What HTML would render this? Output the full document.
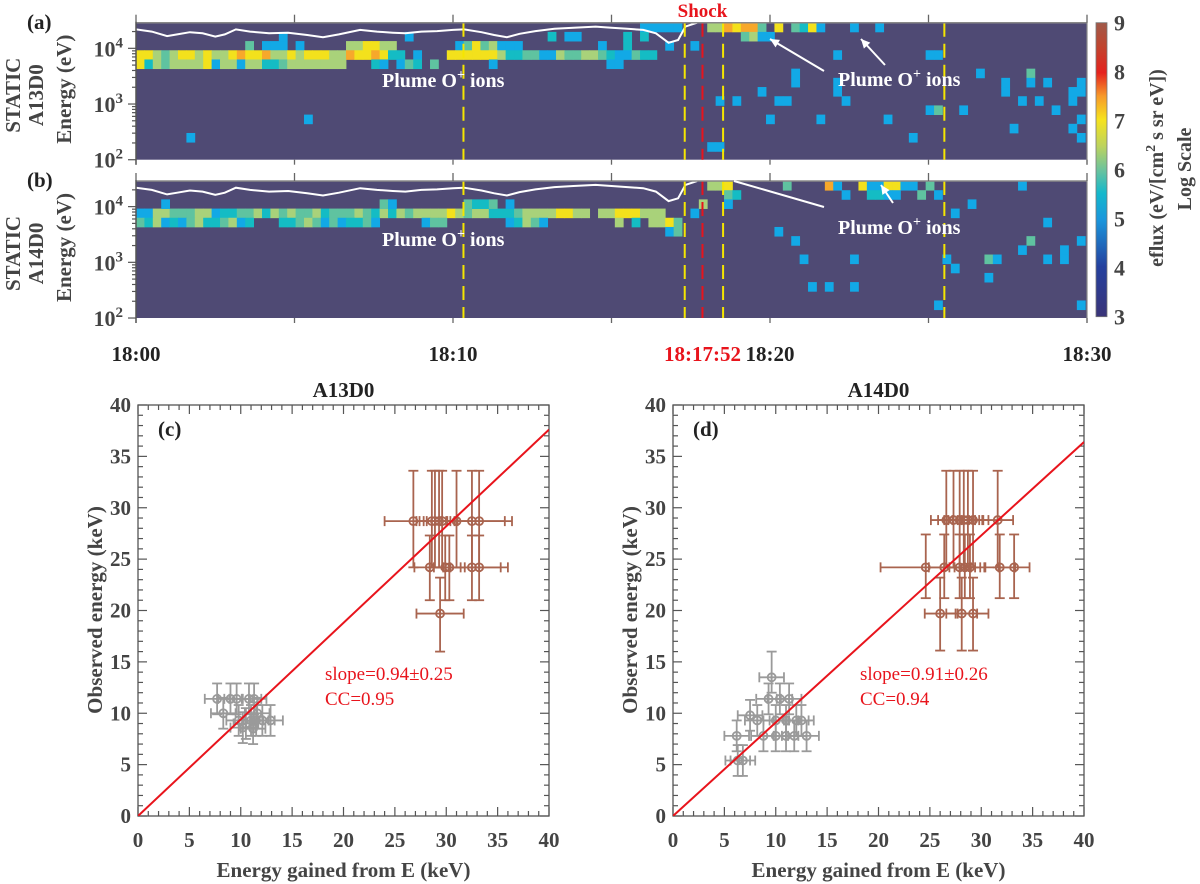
<!DOCTYPE html>
<html><head><meta charset="utf-8"><style>
html,body{margin:0;padding:0;background:#fff;}
svg{display:block;font-family:"Liberation Serif",serif;}
</style></head><body>
<svg id="fig" width="1200" height="884" viewBox="0 0 1200 884" xmlns="http://www.w3.org/2000/svg">
<defs>
<linearGradient id="cbar" x1="0" y1="1" x2="0" y2="0">
<stop offset="0" stop-color="#3a3478"/><stop offset="0.17" stop-color="#24409e"/>
<stop offset="0.33" stop-color="#1a96dc"/><stop offset="0.42" stop-color="#14b8cc"/>
<stop offset="0.5" stop-color="#6cc39c"/><stop offset="0.58" stop-color="#bcd35e"/>
<stop offset="0.67" stop-color="#f6e31e"/><stop offset="0.75" stop-color="#f79a2a"/>
<stop offset="0.83" stop-color="#e5221e"/><stop offset="0.92" stop-color="#c0452f"/>
<stop offset="1" stop-color="#a05a4a"/>
</linearGradient>
<clipPath id="clipA"><rect x="136" y="22.7" width="951" height="136.5"/></clipPath>
<clipPath id="clipB"><rect x="136" y="181" width="951" height="136.5"/></clipPath>
<clipPath id="clipC"><rect x="138" y="405" width="411" height="411"/></clipPath>
<clipPath id="clipD"><rect x="673" y="405" width="411" height="411"/></clipPath>
</defs>
</svg>
<script>
// ---------- spectrogram data ----------
const binMin = 0.265;
const rowsA_k = [0, 2, 3, 4];
const rowsA_start = [60, 13, 0, 0];
const rowsA_str = [
 "bbbbb...lloyoog.y.gcyb...b..b",
 "g.bbb.b.....llyyll.......bgyglbbb.........b..c....b..b",
 "yylglyylyllyoyyollylyyylloyyoycc.b...yyyyyylccggbblggllgcbbgcc",
 "yclgllllybllbllccglllllll...cb.bgc.g......b.............bb"
];
const rowsB_k = [3, 4];
const rowsB_start = [0, 0];
const rowsB_str = [
 "bbllgggllbccgglclglgglcggglgclclgllllylgllcccgllllyyll.llyyylll...b",
 "gclbcbglccglbc...ccglgbgbccgb.....bgg.......bclgb........l.c.llyg"
];
const dotsA = [[17,1,'b'],[32,1,'b'],[49,1,'c'],[51,1,'b'],[52,1,'b'],[58,1,'c'],[60,1,'c'],[72,1,'g'],[73,1,'l'],[74,1,'b'],[75,1,'b'],
[83,3,'b'],[94,3,'b'],[95,3,'b'],[78,5,'b'],[78,6,'b'],[74,7,'b'],[83,6,'b'],[83,7,'b'],
[69,8,'b'],[71,8,'b'],[76,8,'b'],[77,8,'b'],[84,8,'b'],[94,9,'b'],[95,9,'g'],[98,9,'b'],
[75,10,'b'],[81,10,'b'],[89,10,'b'],[92,12,'b'],[68,13,'b'],[69,13,'b'],
[100,5,'b'],[103,6,'b'],[103,7,'b'],[105,8,'b'],[106,5,'g'],[106,6,'b'],[107,8,'b'],[108,6,'b'],[109,9,'b'],
[111,7,'b'],[112,7,'b'],[111,8,'b'],[112,6,'b'],[104,11,'b'],[111,11,'b'],[112,12,'b'],[112,10,'b'],[20,10,'b'],[6,12,'b']];
const dotsB = [[68,0,'l'],[69,0,'l'],[70,0,'y'],[77,0,'g'],[82,0,'o'],[83,0,'b'],[86,0,'y'],[87,0,'b'],[88,0,'b'],[89,0,'y'],[90,0,'y'],[91,0,'b'],[92,0,'b'],[94,0,'g'],[105,0,'b'],
[70,1,'g'],[71,1,'c'],[84,1,'b'],[87,1,'c'],[88,1,'c'],[89,1,'b'],[90,1,'b'],[93,1,'g'],[95,1,'b'],
[3,2,'b'],[29,2,'g'],[30,2,'b'],[39,2,'g'],[40,2,'c'],[41,2,'c'],[42,2,'g'],[44,2,'b'],[67,2,'l'],[70,2,'b'],[99,2,'b'],
[97,3,'b'],[108,4,'b'],[63,5,'b'],[64,5,'g'],[76,5,'b'],[78,6,'b'],[112,6,'b'],[106,6,'g'],[105,7,'b'],[110,7,'b'],[110,8,'b'],
[79,8,'b'],[85,8,'b'],[96,8,'b'],[101,8,'g'],[102,8,'b'],[108,8,'b'],[97,9,'b'],[101,10,'b'],[80,11,'b'],[82,11,'b'],[85,11,'b'],[95,13,'b'],[112,13,'b']];
const lineMin = [0,0.5,0.98,1.3,1.7,2.1,2.5,2.8,3.15,3.6,4.2,4.8,5.4,5.9,6.4,7.07,7.6,8.1,8.5,9.0,9.5,10.0,10.35,10.9,11.3,11.7,12.1,12.6,13.2,13.8,14.5,15.0,15.5,16.0,16.4,16.8,17.1,17.33,17.7];
const lineLogE = [4.34,4.30,4.22,4.25,4.29,4.27,4.21,4.25,4.34,4.30,4.27,4.28,4.24,4.20,4.25,4.33,4.30,4.28,4.27,4.30,4.31,4.33,4.34,4.29,4.24,4.20,4.26,4.31,4.35,4.37,4.39,4.37,4.35,4.33,4.27,4.10,4.15,4.39,4.46];
const yellowLines = [10.33, 17.31, 18.52, 25.5];
const shockLine = 17.87;
const timeTicks = [0,10,20,30];
const timeLabels = ["18:00","18:10","18:20","18:30"];
const cbarTicks = [3,4,5,6,7,8,9];

// ---------- scatter data ----------
const cX = [26.8,28.6,28.9,29.3,29.6,31.0,32.5,33.2, 28.4,29.9,30.3,32.5,33.2, 29.4];
const cY = [28.7,28.7,28.7,28.7,28.7,28.7,28.7,28.7, 24.2,24.2,24.2,24.2,24.2, 19.7];
const cXe = [2.8,1.5,1.5,1.5,1.5,1.5,3.2,3.2, 1.5,1.5,1.5,2.8,2.8, 2.3];
const cYlo = [4.5,4.5,4.5,4.5,4.5,4.5,4.5,4.5, 3.2,3.2,3.2,3.2,3.2, 3.7];
const cYhi = [4.9,4.9,4.9,4.9,4.9,4.9,4.9,4.9, 3.1,3.1,3.1,3.1,3.1, 3.5];
const cGX = [7.7,9.0,9.6,10.8,11.3,8.3,9.8,10.5,11.0,11.5,12.1,12.9,10.2,11.2,11.6];
const cGY = [11.4,11.4,11.4,11.4,11.4,10.0,9.3,9.0,9.3,9.3,9.3,9.3,8.6,8.5,10.0];
const dX = [26.6,27.3,27.9,28.3,28.7,29.2,31.6, 24.6,26.4,27.9,28.4,28.9,31.8,33.2, 26.0,28.1,29.2];
const dY = [28.8,28.8,28.8,28.8,28.8,28.8,28.8, 24.2,24.2,24.2,24.2,24.2,24.2,24.2, 19.7,19.7,19.7];
const dXe = [1.5,1.5,1.5,1.5,1.5,1.5,1.5, 4.4,1.5,1.5,1.5,1.5,1.5,1.5, 1.5,1.5,1.5];
const dYlo = [4.6,4.6,4.6,4.6,4.6,4.6,4.6, 3.0,3.0,3.0,3.0,3.0,3.0,3.0, 3.6,3.6,3.6];
const dYhi = [4.8,4.8,4.8,4.8,4.8,4.8,4.8, 3.2,3.2,3.2,3.2,3.2,3.2,3.2, 3.5,3.5,3.5];
const dGX = [9.6,9.3,10.4,11.3,7.5,8.2,10.0,11.0,12.0,12.5,6.2,8.8,10.0,11.0,11.8,13.0,6.3,6.8];
const dGY = [13.5,11.4,11.4,11.4,9.8,9.3,9.3,9.3,9.3,9.3,7.8,7.8,7.8,7.8,7.8,7.8,5.4,5.4];
const slopes = [0.94, 0.91];
const fitText = ["slope=0.94\u00b10.25","slope=0.91\u00b10.26"];
const ccText = ["CC=0.95","CC=0.94"];

// ---------- helpers ----------
const NS="http://www.w3.org/2000/svg";
const svg=document.getElementById('fig');
function mk(tag,attrs,parent){const e=document.createElementNS(NS,tag);for(const k in attrs)e.setAttribute(k,attrs[k]);(parent||svg).appendChild(e);return e;}
const COL={b:'#12a9e6',c:'#14bcc4',g:'#5fc3a0',l:'#a9d27a',y:'#f3e11c',o:'#f7a82b'};
const T0=136,T1=1087;
function xT(m){return T0+(T1-T0)*m/30;}
const panels=[{name:'a',top:22.7,bot:159.7,clip:'clipA'},{name:'b',top:181,bot:318,clip:'clipB'}];
function yE(p,logE){return p.top+(4.46-logE)*55.7;}
function cell(p,g,bin,k,code){
 const x0=xT(bin*binMin),x1=xT((bin+1)*binMin);
 const r=mk('rect',{x:x0,y:yE(p,4.46-0.165*k),width:x1-x0+0.4,height:0.165*55.7+0.4,fill:COL[code]},g);
 
 
}
function txt(x,y,s,attrs,name,parent){const t=mk('text',Object.assign({x:x,y:y},attrs),parent);t.textContent=s;return t;}

// ---------- spectrogram panels ----------
panels.forEach((p,pi)=>{
 const g=mk('g',{});
 
 
 const bg=mk('rect',{x:T0,y:p.top,width:T1-T0,height:p.bot-p.top,fill:'#4f4a74'},g);
 
 
 const cg=mk('g',{'clip-path':'url(#'+p.clip+')'},g);
 const ks=pi==0?rowsA_k:rowsB_k, st=pi==0?rowsA_start:rowsB_start, ss=pi==0?rowsA_str:rowsB_str;
 ks.forEach((k,i)=>{for(let j=0;j<ss[i].length;j++){const c=ss[i][j];if(c!=='.')cell(p,cg,st[i]+j,k,c);}});
 (pi==0?dotsA:dotsB).forEach(d=>cell(p,cg,d[0],d[1],d[2]));
 // white line
 let dstr='';lineMin.forEach((m,i)=>{dstr+=(i?'L':'M')+xT(m).toFixed(1)+' '+yE(p,lineLogE[i]).toFixed(1);});
 const wl=mk('path',{d:dstr,fill:'none',stroke:'#fff','stroke-width':2},cg);
 
 
 yellowLines.forEach(m=>{const l=mk('line',{x1:xT(m),x2:xT(m),y1:p.top,y2:p.bot,stroke:'#f5e600','stroke-width':2,'stroke-dasharray':'14,7'},g);
  
  });
 const sl=mk('line',{x1:xT(shockLine),x2:xT(shockLine),y1:p.top,y2:p.bot,stroke:'#e8141c','stroke-width':2,'stroke-dasharray':'14,7'},g);
 
 
 // frame
 mk('line',{x1:T0,x2:T1,y1:p.top,y2:p.top,stroke:'#888','stroke-width':1.5},g);
 mk('line',{x1:T0,x2:T0,y1:p.top-1,y2:p.bot+5,stroke:'#555','stroke-width':1.5},g);
 mk('line',{x1:T1,x2:T1,y1:p.top-1,y2:p.bot+5,stroke:'#888','stroke-width':1.2},g);
 for(let m=0;m<=30;m+=5){mk('line',{x1:xT(m),x2:xT(m),y1:p.top-8,y2:p.top,stroke:'#666','stroke-width':1.3},g);
  mk('line',{x1:xT(m),x2:xT(m),y1:p.bot,y2:p.bot+5,stroke:'#666','stroke-width':1.3},g);}
 // y ticks
 for(let d=2;d<=4;d++){for(let s=1;s<10;s++){const le=d+Math.log10(s);if(le>4.46)break;const y=yE(p,le);
   mk('line',{x1:s==1?T0-8:T0-4,x2:T0,y1:y,y2:y,stroke:'#555','stroke-width':1.2},g);}
  const tl=txt(123,yE(p,d)+8,'10',{'font-size':22,'font-weight':'bold',fill:'#444','text-anchor':'end'},'y-tick-label',g);
  const sup=mk('tspan',{dy:-9,'font-size':15},tl);sup.textContent=String(d);}
 txt(27,pi==0?29:187,pi==0?'(a)':'(b)',{'font-size':21,'font-weight':'bold',fill:'#222'},'panel-label-'+p.name,g);
 const cy=(p.top+p.bot)/2;
 txt(0,0,'STATIC',{'font-size':21,'font-weight':'bold',fill:'#444','text-anchor':'middle',transform:`translate(20,${cy+4}) rotate(-90)`},'instrument-label',g);
 txt(0,0,pi==0?'A13D0':'A14D0',{'font-size':21,'font-weight':'bold',fill:'#444','text-anchor':'middle',transform:`translate(43,${cy+4}) rotate(-90)`},'mode-label',g);
 txt(0,0,'Energy (eV)',{'font-size':21,'font-weight':'bold',fill:'#444','text-anchor':'middle',transform:`translate(71,${cy-2}) rotate(-90)`},'y-axis-title',g);
});
// time labels
timeTicks.forEach((m,i)=>txt(xT(m),361,timeLabels[i],{'font-size':21,'font-weight':'bold',fill:'#222','text-anchor':'middle'},'x-tick-label'));
txt(xT(shockLine),361,'18:17:52',{'font-size':21,'font-weight':'bold',fill:'#e8141c','text-anchor':'middle'},'shock-time-label');
txt(xT(shockLine),17,'Shock',{'font-size':19,'font-weight':'bold',fill:'#e8141c','text-anchor':'middle'},'shock-label');
// annotations
function plume(x,y){const t=txt(x,y,'Plume O',{'font-size':20,'font-weight':'bold',fill:'#fff'},'plume-annotation');
 const s=mk('tspan',{dy:-8,'font-size':14},t);s.textContent='+';const s2=mk('tspan',{dy:8},t);s2.textContent=' ions';}
plume(382,87);plume(838,86);plume(382,246);plume(838,234);
function arrow(x1,y1,x2,y2,head){const l=mk('line',{x1:x1,y1:y1,x2:x2,y2:y2,stroke:'#fff','stroke-width':2});
 
 if(head){const a=Math.atan2(y2-y1,x2-x1),L=10,w=0.45;
  const p1=[x2-L*Math.cos(a-w),y2-L*Math.sin(a-w)],p2=[x2-L*Math.cos(a+w),y2-L*Math.sin(a+w)];
  const h=mk('polygon',{points:`${x2},${y2} ${p1} ${p2}`,fill:'#fff'});
  }}
arrow(824,71,770,39,true);arrow(885,65,861,39,true);arrow(824,207,734,181,false);arrow(893,203,881,185,true);
// colorbar
const cb=mk('rect',{x:1096,y:22.7,width:11,height:294,fill:'url(#cbar)',stroke:'#777','stroke-width':0.8});

cbarTicks.forEach(v=>{const y=316.7-(v-3)*49;txt(1114,y+8,String(v),{'font-size':22,'font-weight':'bold',fill:'#444'},'colorbar-tick-label');});
const ct=txt(0,0,'eflux (eV/[cm',{'font-size':20,'font-weight':'bold',fill:'#444','text-anchor':'middle',transform:'translate(1163,168) rotate(-90)'},'colorbar-title');
const c2=mk('tspan',{dy:-8,'font-size':14},ct);c2.textContent='2';const c3=mk('tspan',{dy:8},ct);c3.textContent=' s sr eV])';
txt(0,0,'Log Scale',{'font-size':20,'font-weight':'bold',fill:'#444','text-anchor':'middle',transform:'translate(1191,169) rotate(-90)'},'colorbar-subtitle');

// ---------- scatter panels ----------
function scatter(ox,clip,label,title,bx,by,bxe,bylo,byhi,gx,gy,slope,ft,cc,gyTop){
 const X0=ox,X1=ox+411,Y0=816,Y1=405;
 const sx=v=>X0+(X1-X0)*v/40, sy=v=>Y0-(Y0-Y1)*v/40;
 const g=mk('g',{});
 
 
 const fr=mk('rect',{x:X0,y:Y1,width:411,height:411,fill:'none',stroke:'#555','stroke-width':1.3},g);
 for(let v=0;v<=40;v++){const L=v%5==0?9:5;
  mk('line',{x1:sx(v),x2:sx(v),y1:Y0,y2:Y0-L,stroke:'#555','stroke-width':1.2},g);
  mk('line',{x1:sx(v),x2:sx(v),y1:Y1,y2:Y1+L,stroke:'#555','stroke-width':1.2},g);
  mk('line',{y1:sy(v),y2:sy(v),x1:X0,x2:X0+L,stroke:'#555','stroke-width':1.2},g);
  mk('line',{y1:sy(v),y2:sy(v),x1:X1,x2:X1-L,stroke:'#555','stroke-width':1.2},g);
  if(v%5==0){txt(sx(v),847,String(v),{'font-size':21,'font-weight':'bold',fill:'#444','text-anchor':'middle'},'x-tick-label',g);
   txt(X0-7,sy(v)+7,String(v),{'font-size':21,'font-weight':'bold',fill:'#444','text-anchor':'end'},'y-tick-label',g);}}
 txt((X0+X1)/2,877,'Energy gained from E (keV)',{'font-size':21,'font-weight':'bold',fill:'#444','text-anchor':'middle'},'x-axis-title',g);
 txt(0,0,'Observed energy (keV)',{'font-size':21,'font-weight':'bold',fill:'#444','text-anchor':'middle',transform:`translate(${X0-36},610) rotate(-90)`},'y-axis-title',g);
 txt((X0+X1)/2,397,title,{'font-size':21,'font-weight':'bold',fill:'#222','text-anchor':'middle'},'plot-title',g);
 txt(X0+20,436,label,{'font-size':21,'font-weight':'bold',fill:'#222'},'panel-label',g);
 const pg=mk('g',{'clip-path':'url(#'+clip+')'},g);
 function pt(x,y,xe,ylo,yhi,col){
  const e=mk('g',{stroke:col,'stroke-width':1.8,fill:'none'},pg);
  
  
  mk('line',{x1:sx(x-xe),x2:sx(x+xe),y1:sy(y),y2:sy(y)},e);
  mk('line',{x1:sx(x-xe),x2:sx(x-xe),y1:sy(y)-5,y2:sy(y)+5},e);
  mk('line',{x1:sx(x+xe),x2:sx(x+xe),y1:sy(y)-5,y2:sy(y)+5},e);
  mk('line',{x1:sx(x),x2:sx(x),y1:sy(y-ylo),y2:sy(y+yhi)},e);
  mk('line',{x1:sx(x)-5,x2:sx(x)+5,y1:sy(y-ylo),y2:sy(y-ylo)},e);
  mk('line',{x1:sx(x)-5,x2:sx(x)+5,y1:sy(y+yhi),y2:sy(y+yhi)},e);
  mk('circle',{cx:sx(x),cy:sy(y),r:4},e);
  mk('line',{x1:sx(x),x2:sx(x),y1:sy(y)-4,y2:sy(y)+4},e);}
 gx.forEach((x,i)=>pt(x,gy[i],1.2,1.5,(gyTop&&i==0)?2.5:1.5,'#9a9a9a'));
 bx.forEach((x,i)=>pt(x,by[i],bxe[i],bylo[i],byhi[i],'#a9644f'));
 const fl=mk('line',{x1:sx(0),y1:sy(0),x2:sx(40),y2:sy(40*slope),stroke:'#e8141c','stroke-width':2},pg);
 
 
 txt(sx(18.2),680,ft,{'font-size':19,fill:'#e8141c'},'slope-text',g);
 txt(sx(18.2),705,cc,{'font-size':19,fill:'#e8141c'},'cc-text',g);
}
scatter(138,'clipC','(c)','A13D0',cX,cY,cXe,cYlo,cYhi,cGX,cGY,slopes[0],fitText[0],ccText[0],false);
scatter(673,'clipD','(d)','A14D0',dX,dY,dXe,dYlo,dYhi,dGX,dGY,slopes[1],fitText[1],ccText[1],true);
</script>
</body></html>
